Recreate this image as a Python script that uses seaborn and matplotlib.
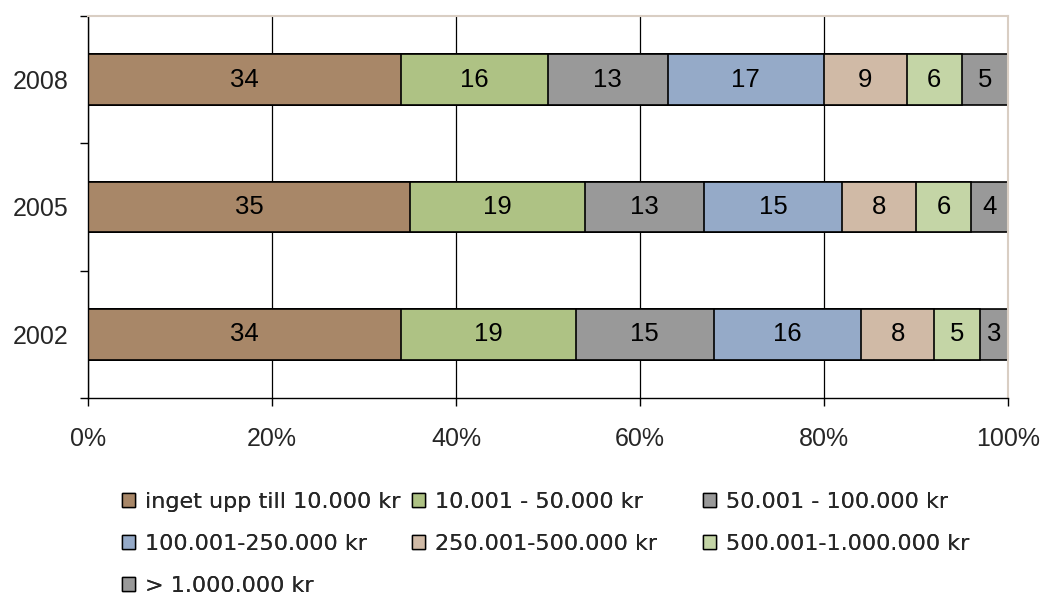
import numpy as np
import pandas as pd
import seaborn as sns
import matplotlib.pyplot as plt
from matplotlib.patches import Patch

# Data (percent per year, 100% stacked)
years = ['2008', '2005', '2002']
categories = ['inget upp till 10.000 kr', '10.001 - 50.000 kr', '50.001 - 100.000 kr',
              '100.001-250.000 kr', '250.001-500.000 kr', '500.001-1.000.000 kr',
              '> 1.000.000 kr']
v2008 = [34, 16, 13, 17, 9, 6, 5]
v2005 = [35, 19, 13, 15, 8, 6, 4]
v2002 = [34, 19, 15, 16, 8, 5, 3]
colors = ['#A88768', '#AEC284', '#999999', '#95AAC8', '#D0BAA6', '#C4D5A6', '#999999']

df = pd.DataFrame([v2008, v2005, v2002], index=years, columns=categories)
pct = df.div(df.sum(axis=1), axis=0) * 100
cum = pct.cumsum(axis=1)

sns.set_theme(style='white')
plt.rcParams['font.family'] = ['Liberation Sans', 'DejaVu Sans']

fig = plt.figure(figsize=(10.43, 5.96), dpi=100)
ax = fig.add_axes([0.0844, 0.3322, 0.882, 0.641])

# stacked bars: draw cumulative totals from the longest to the shortest
for i in range(len(categories) - 1, -1, -1):
    d = pd.DataFrame({'year': years, 'total': cum.iloc[:, i].values})
    sns.barplot(data=d, x='total', y='year', order=years, orient='h',
                color=colors[i], saturation=1, width=0.4, edgecolor='black',
                linewidth=1.2, errorbar=None, ax=ax)

# segment labels
for j, yr in enumerate(years):
    for i, cat in enumerate(categories):
        center = cum.loc[yr, cat] - pct.loc[yr, cat] / 2
        ax.text(center, j, str(df.loc[yr, cat]), ha='center', va='center',
                fontsize=18.5, color='black')

ax.set_xlim(0, 100)
ax.set_ylim(2.5, -0.5)
ax.set_xlabel('')
ax.set_ylabel('')
ax.set_xticks(range(0, 101, 20))
ax.set_xticklabels([f'{t}%' for t in range(0, 101, 20)], fontsize=18)
ax.set_yticks(range(len(years)))
ax.set_yticklabels(years, fontsize=18)
ax.set_yticks([-0.5, 0.5, 1.5, 2.5], minor=True)
ax.tick_params(axis='y', which='major', length=0, pad=14)
ax.tick_params(axis='y', which='minor', length=6, width=1, color='black', direction='out', left=True)
ax.tick_params(axis='x', length=6, width=1, color='black', direction='out', bottom=True, pad=15)

ax.set_axisbelow(True)
ax.grid(axis='x', color='black', linewidth=0.9)
ax.grid(axis='y', visible=False)
for side in ['left', 'bottom']:
    ax.spines[side].set_color('black')
    ax.spines[side].set_linewidth(1)
for side in ['top', 'right']:
    ax.spines[side].set_color('#D9CEC3')
    ax.spines[side].set_linewidth(1.5)

# legend laid out row-wise in three fixed columns
handles = [Patch(facecolor=c, edgecolor='black', linewidth=1) for c in colors]
col_x = [122 / 1043, 412 / 1043, 703 / 1043]
for k in range(3):
    idx = list(range(k, len(categories), 3))
    leg = fig.legend([handles[n] for n in idx], [categories[n] for n in idx],
                     loc='upper left', bbox_to_anchor=(col_x[k], 1 - 492 / 596),
                     frameon=False, borderpad=0, borderaxespad=0,
                     prop={'family': 'DejaVu Sans', 'size': 16},
                     handlelength=0.6, handleheight=0.6, handletextpad=0.45,
                     labelspacing=0.98)
    fig.add_artist(leg)

fig.savefig('out.png', dpi=100)
